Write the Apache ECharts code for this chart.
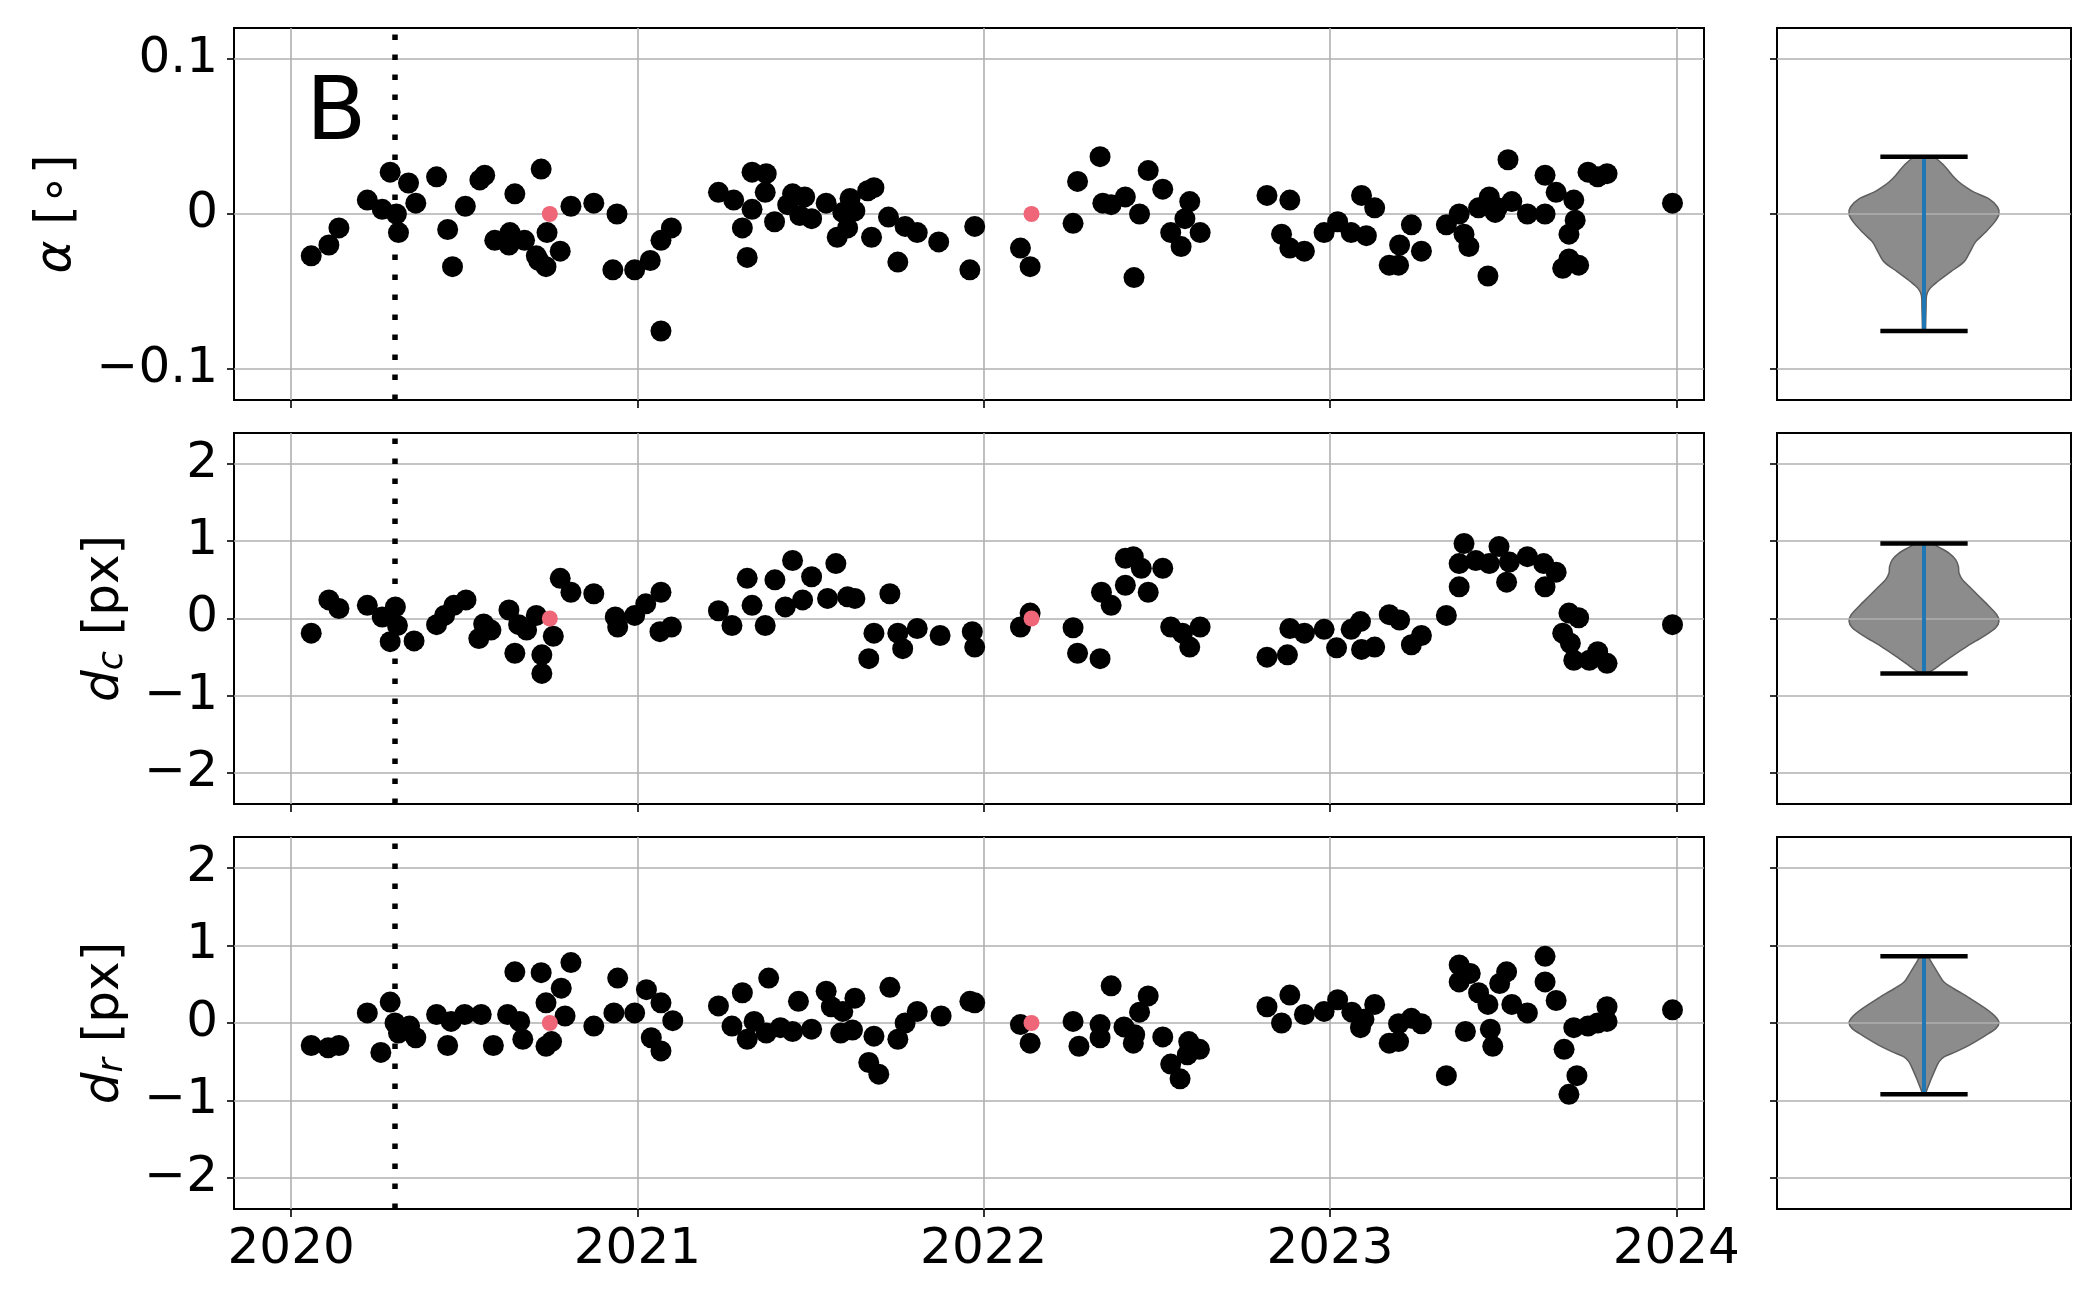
<!DOCTYPE html>
<html><head><meta charset="utf-8">
<script src="https://cdn.jsdelivr.net/npm/echarts@6/dist/echarts.min.js"></script>
<style>html,body{margin:0;padding:0;background:#fff}#c{width:2096px;height:1297px}</style>
</head><body><div id="c"></div>
<script>
// ---------- DATA ----------
const yearTicks = [2020, 2021, 2022, 2023, 2024];
const alphaTicks = [-0.1, 0, 0.1];
const dTicks = [-2, -1, 0, 1, 2];
const refEpoch = 2020.298;          // dotted vertical line
const panelLetter = 'B';

// alpha [deg]  : [decimal year, value]
const alphaPts = [
[2020.058,-0.027],[2020.109,-0.020],[2020.138,-0.009],[2020.220,0.009],[2020.263,0.003],[2020.286,0.027],[2020.304,0.000],[2020.310,-0.012],[2020.339,0.020],[2020.360,0.007],
[2020.420,0.024],[2020.452,-0.010],[2020.466,-0.034],[2020.503,0.005],[2020.545,0.022],[2020.559,0.025],[2020.588,-0.017],[2020.632,-0.012],[2020.646,0.013],[2020.629,-0.020],
[2020.674,-0.017],[2020.708,-0.027],[2020.722,0.029],[2020.715,-0.030],[2020.736,-0.034],[2020.739,-0.012],[2020.777,-0.024],[2020.808,0.005],[2020.874,0.007],[2020.941,0.000],
[2020.929,-0.036],[2020.992,-0.036],[2021.037,-0.030],[2021.068,-0.017],[2021.098,-0.009],[2021.068,-0.0755],[2021.234,0.014],[2021.278,0.009],[2021.303,-0.009],[2021.317,-0.028],
[2021.331,0.003],[2021.331,0.027],[2021.372,0.026],[2021.369,0.014],[2021.396,-0.005],[2021.434,0.006],[2021.448,0.013],[2021.469,-0.001],[2021.483,0.011],[2021.503,-0.003],
[2021.545,0.007],[2021.577,-0.015],[2021.593,0.001],[2021.607,-0.009],[2021.614,0.010],[2021.628,0.002],[2021.665,0.015],[2021.683,0.017],[2021.676,-0.015],[2021.725,-0.002],
[2021.752,-0.031],[2021.773,-0.008],[2021.808,-0.012],[2021.870,-0.018],[2021.960,-0.036],[2021.974,-0.008],
[2022.106,-0.022],[2022.134,-0.034],[2022.258,-0.006],[2022.271,0.021],[2022.336,0.037],[2022.344,0.007],[2022.368,0.006],[2022.409,0.011],[2022.434,-0.041],[2022.450,0.000],
[2022.475,0.028],[2022.517,0.016],[2022.540,-0.012],[2022.570,-0.021],[2022.581,-0.003],[2022.595,0.008],[2022.625,-0.012],[2022.818,0.012],[2022.884,0.009],[2022.860,-0.013],
[2022.884,-0.022],[2022.926,-0.024],[2022.983,-0.012],[2023.022,-0.005],[2023.061,-0.012],[2023.091,0.012],[2023.105,-0.014],[2023.129,0.004],[2023.171,-0.033],[2023.198,-0.033],
[2023.201,-0.020],[2023.235,-0.007],[2023.264,-0.024],[2023.336,-0.007],[2023.373,0.000],[2023.387,-0.013],[2023.401,-0.021],[2023.429,0.004],[2023.456,-0.040],[2023.460,0.011],
[2023.477,0.001],[2023.483,0.004],[2023.514,0.035],[2023.525,0.008],[2023.570,0.000],[2023.621,0.000],[2023.621,0.025],[2023.653,0.014],[2023.672,-0.035],[2023.690,-0.013],
[2023.690,-0.029],[2023.704,0.009],[2023.708,-0.004],[2023.718,-0.033],[2023.745,0.027],[2023.773,0.024],[2023.800,0.026],[2023.989,0.007]
];

// d_c [px]
const dcPts = [
[2020.058,-0.19],[2020.109,0.24],[2020.138,0.13],[2020.220,0.17],[2020.263,0.02],[2020.301,0.15],[2020.286,-0.30],[2020.307,-0.09],[2020.355,-0.29],[2020.420,-0.08],
[2020.443,0.04],[2020.470,0.17],[2020.505,0.24],[2020.542,-0.26],[2020.556,-0.07],[2020.577,-0.15],[2020.629,0.11],[2020.646,-0.45],[2020.657,-0.08],[2020.680,-0.15],
[2020.708,0.04],[2020.724,-0.47],[2020.724,-0.71],[2020.757,-0.23],[2020.777,0.52],[2020.808,0.34],[2020.874,0.32],[2020.936,0.02],[2020.943,-0.11],[2020.992,0.04],
[2021.024,0.19],[2021.068,0.34],[2021.065,-0.17],[2021.098,-0.11],[2021.234,0.10],[2021.273,-0.09],[2021.317,0.52],[2021.331,0.17],[2021.369,-0.09],[2021.397,0.50],
[2021.427,0.15],[2021.448,0.75],[2021.477,0.24],[2021.503,0.54],[2021.549,0.26],[2021.573,0.71],[2021.607,0.28],[2021.628,0.26],[2021.729,0.32],[2021.683,-0.19],
[2021.668,-0.52],[2021.752,-0.19],[2021.766,-0.39],[2021.808,-0.13],[2021.874,-0.22],[2021.967,-0.17],[2021.974,-0.37],
[2022.106,-0.11],[2022.134,0.07],[2022.258,-0.12],[2022.271,-0.45],[2022.336,-0.52],[2022.340,0.34],[2022.368,0.17],[2022.409,0.43],[2022.409,0.78],[2022.432,0.80],
[2022.455,0.65],[2022.475,0.34],[2022.517,0.65],[2022.540,-0.11],[2022.574,-0.19],[2022.595,-0.37],[2022.625,-0.11],[2022.818,-0.50],[2022.877,-0.47],[2022.884,-0.13],
[2022.926,-0.19],[2022.983,-0.14],[2023.019,-0.38],[2023.061,-0.14],[2023.088,-0.04],[2023.091,-0.40],[2023.129,-0.37],[2023.171,0.05],[2023.201,-0.02],[2023.235,-0.34],
[2023.264,-0.22],[2023.336,0.04],[2023.373,0.41],[2023.373,0.71],[2023.387,0.97],[2023.421,0.75],[2023.460,0.71],[2023.488,0.93],[2023.510,0.47],[2023.518,0.73],
[2023.570,0.80],[2023.617,0.71],[2023.621,0.41],[2023.653,0.60],[2023.690,0.07],[2023.718,0.01],[2023.672,-0.19],[2023.694,-0.32],[2023.704,-0.54],[2023.749,-0.54],
[2023.773,-0.43],[2023.800,-0.58],[2023.989,-0.08]
];

// d_r [px]
const drPts = [
[2020.058,-0.29],[2020.107,-0.32],[2020.138,-0.29],[2020.220,0.13],[2020.259,-0.38],[2020.286,0.27],[2020.300,0.00],[2020.310,-0.13],[2020.342,-0.04],[2020.360,-0.19],
[2020.420,0.11],[2020.452,-0.29],[2020.462,0.02],[2020.501,0.11],[2020.549,0.11],[2020.584,-0.29],[2020.625,0.11],[2020.646,0.66],[2020.660,0.02],[2020.669,-0.21],
[2020.722,0.65],[2020.736,0.26],[2020.736,-0.30],[2020.752,-0.24],[2020.780,0.45],[2020.791,0.09],[2020.808,0.78],[2020.874,-0.04],[2020.932,0.13],[2020.943,0.58],
[2020.992,0.13],[2021.026,0.43],[2021.040,-0.19],[2021.068,0.26],[2021.068,-0.36],[2021.102,0.03],[2021.234,0.22],[2021.273,-0.04],[2021.303,0.39],[2021.317,-0.21],
[2021.337,0.02],[2021.379,0.58],[2021.372,-0.13],[2021.413,-0.06],[2021.448,-0.11],[2021.465,0.28],[2021.503,-0.08],[2021.545,0.41],[2021.560,0.21],[2021.587,-0.13],
[2021.593,0.15],[2021.621,-0.09],[2021.628,0.32],[2021.683,-0.17],[2021.668,-0.51],[2021.697,-0.66],[2021.729,0.46],[2021.752,-0.21],[2021.773,0.00],[2021.808,0.15],
[2021.877,0.09],[2021.960,0.28],[2021.974,0.26],
[2022.106,-0.02],[2022.134,-0.26],[2022.258,0.02],[2022.275,-0.30],[2022.336,-0.02],[2022.336,-0.19],[2022.368,0.48],[2022.405,-0.05],[2022.432,-0.26],[2022.450,0.14],
[2022.475,0.35],[2022.436,-0.15],[2022.517,-0.18],[2022.540,-0.53],[2022.567,-0.72],[2022.592,-0.24],[2022.623,-0.34],[2022.588,-0.41],[2022.818,0.21],[2022.860,0.00],
[2022.884,0.36],[2022.926,0.11],[2022.983,0.15],[2023.022,0.30],[2023.063,0.14],[2023.088,-0.06],[2023.098,0.05],[2023.129,0.24],[2023.171,-0.26],[2023.198,-0.24],
[2023.198,-0.01],[2023.235,0.06],[2023.264,-0.01],[2023.336,-0.68],[2023.373,0.75],[2023.373,0.53],[2023.405,0.64],[2023.391,-0.11],[2023.429,0.39],[2023.456,0.24],
[2023.463,-0.08],[2023.470,-0.30],[2023.490,0.51],[2023.510,0.66],[2023.525,0.24],[2023.570,0.13],[2023.621,0.86],[2023.621,0.53],[2023.653,0.29],[2023.676,-0.34],
[2023.690,-0.92],[2023.713,-0.68],[2023.704,-0.06],[2023.745,-0.04],[2023.773,0.00],[2023.800,0.21],[2023.800,0.02],[2023.989,0.17]
];

// reference epochs (red)
const redPts = [[2020.747, 0], [2022.138, 0]];

// violin outlines: value and half-width (violin axis units)
const alphaViolinY = [0.0367,0.0313,0.0249,0.0205,0.0170,0.0141,0.0099,0.0045,0,-0.0051,-0.0116,-0.0180,-0.0244,-0.0309,-0.0373,-0.0437,-0.0480,-0.0523,-0.0609,-0.0716,-0.0750];
const alphaViolinW = [0.063,0.136,0.193,0.240,0.290,0.340,0.440,0.500,0.510,0.481,0.420,0.351,0.313,0.272,0.181,0.091,0.041,0.018,0.014,0.011,0.009];
const dcViolinY = [0.963,0.933,0.847,0.761,0.675,0.589,0.503,0.417,0.288,0.159,0.052,-0.034,-0.120,-0.228,-0.357,-0.486,-0.594,-0.658,-0.692];
const dcViolinW = [0.068,0.091,0.170,0.215,0.234,0.238,0.261,0.306,0.374,0.442,0.494,0.510,0.488,0.408,0.295,0.193,0.113,0.068,0.034];
const drViolinY = [0.850,0.785,0.657,0.528,0.442,0.313,0.185,0.077,0,-0.073,-0.159,-0.288,-0.373,-0.438,-0.502,-0.588,-0.717,-0.845,-0.897];
const drViolinW = [0.027,0.050,0.091,0.136,0.204,0.317,0.420,0.488,0.510,0.488,0.420,0.306,0.215,0.136,0.102,0.079,0.050,0.023,0.011];

// ---------- LAYOUT / STYLE ----------
const FONT = 'DejaVu Sans';
const X_MIN = 2019.835, X_MAX = 2024.080;
const panels = [
  {top: 28, height: 372, min: -0.12, max: 0.12, ticks: alphaTicks, pts: alphaPts, vy: alphaViolinY, vw: alphaViolinW,
   name: '{i|α} [∘]', nameGap: 152},
  {top: 433, height: 371, min: -2.4, max: 2.4, ticks: dTicks, pts: dcPts, vy: dcViolinY, vw: dcViolinW,
   name: '{i|d}{s|c} [px]', nameGap: 104},
  {top: 837, height: 372, min: -2.4, max: 2.4, ticks: dTicks, pts: drPts, vy: drViolinY, vw: drViolinW,
   name: '{i|d}{s|r} [px]', nameGap: 104}
];
const WHISK = 0.297;
const fmt = v => String(v).replace('-', '\u2212');

const grid = [], xAxis = [], yAxis = [], series = [];
const gridBase = {show: true, borderColor: '#000', borderWidth: 2, backgroundColor: 'transparent', containLabel: false, outerBoundsMode: 'none'};
const nameStyle = {
  fontSize: 50, fontFamily: FONT, color: '#000',
  rich: {
    i: {fontStyle: 'italic', fontSize: 50, fontFamily: FONT, color: '#000'},
    s: {fontStyle: 'italic', fontSize: 35, fontFamily: FONT, color: '#000', verticalAlign: 'bottom', lineHeight: 22}
  }
};

panels.forEach((p, k) => {
  const gs = 2 * k, gv = 2 * k + 1;
  grid.push(Object.assign({left: 234, width: 1470, top: p.top, height: p.height}, gridBase));
  grid.push(Object.assign({left: 1777, width: 294, top: p.top, height: p.height}, gridBase));

  xAxis.push({type: 'value', gridIndex: gs, min: X_MIN, max: X_MAX,
    axisLine: {show: false, onZero: false},
    axisTick: {show: true, customValues: yearTicks, length: 8, lineStyle: {color: '#000', width: 1.6}},
    axisLabel: {show: k === 2, customValues: yearTicks, margin: 16, fontSize: 50, fontFamily: FONT, color: '#000', formatter: v => String(v)},
    splitLine: {show: true, lineStyle: {color: '#b0b0b0', width: 1.6}}});
  xAxis.push({type: 'value', gridIndex: gv, min: -1, max: 1,
    axisLine: {show: false, onZero: false}, axisTick: {show: false}, axisLabel: {show: false}, splitLine: {show: false}});

  const yBase = {type: 'value', min: p.min, max: p.max,
    axisLine: {show: false, onZero: false},
    axisTick: {show: true, customValues: p.ticks, length: 7, lineStyle: {color: '#000', width: 1.6}},
    splitLine: {show: true, lineStyle: {color: '#b0b0b0', width: 1.6}}};
  yAxis.push(Object.assign({}, yBase, {gridIndex: gs,
    axisLabel: {show: true, customValues: p.ticks, margin: 16, fontSize: 50, fontFamily: FONT, color: '#000', formatter: fmt},
    name: p.name, nameLocation: 'middle', nameGap: p.nameGap, nameTextStyle: nameStyle}));
  yAxis.push(Object.assign({}, yBase, {gridIndex: gv, z: 3, axisLabel: {show: false}}));

  // scatter (black) with dotted reference line
  series.push({type: 'scatter', xAxisIndex: gs, yAxisIndex: gs, data: p.pts, symbol: 'circle', symbolSize: 21,
    itemStyle: {color: '#000', opacity: 1}, z: 4, silent: true,
    markLine: {silent: true, symbol: ['none', 'none'], label: {show: false},
      lineStyle: {color: '#000', width: 5.5, type: [5.5, 14.5], cap: 'butt', opacity: 1},
      data: [{xAxis: refEpoch}]}});
  // reference epochs (red)
  series.push({type: 'scatter', xAxisIndex: gs, yAxisIndex: gs, data: redPts, symbol: 'circle', symbolSize: 16,
    itemStyle: {color: '#EE6677', opacity: 1}, z: 6, silent: true});

  // violin body
  series.push({type: 'custom', xAxisIndex: gv, yAxisIndex: gv, data: [[0, 0]], z: 1, silent: true,
    renderItem: (params, api) => {
      const pts = [];
      for (let i = 0; i < p.vy.length; i++) pts.push(api.coord([p.vw[i], p.vy[i]]));
      for (let i = p.vy.length - 1; i >= 0; i--) pts.push(api.coord([-p.vw[i], p.vy[i]]));
      return {type: 'polygon', shape: {points: pts, smooth: 0.3},
        style: {fill: '#8c8c8c', stroke: '#5e5e5e', lineWidth: 1.5}};
    }});
  // extrema bars + centre line
  const vals = p.pts.map(d => d[1]);
  const mn = Math.min(...vals), mx = Math.max(...vals);
  series.push({type: 'custom', xAxisIndex: gv, yAxisIndex: gv, data: [[0, 0]], z: 5, silent: true,
    renderItem: (params, api) => {
      const t = api.coord([0, mx]), b = api.coord([0, mn]);
      const tl = api.coord([-WHISK, mx]), tr = api.coord([WHISK, mx]);
      const bl = api.coord([-WHISK, mn]), br = api.coord([WHISK, mn]);
      return {type: 'group', children: [
        {type: 'line', shape: {x1: t[0], y1: t[1], x2: b[0], y2: b[1]}, style: {stroke: '#1f77b4', lineWidth: 4}},
        {type: 'line', shape: {x1: tl[0], y1: tl[1], x2: tr[0], y2: tr[1]}, style: {stroke: '#000', lineWidth: 4.5}},
        {type: 'line', shape: {x1: bl[0], y1: bl[1], x2: br[0], y2: br[1]}, style: {stroke: '#000', lineWidth: 4.5}}
      ]};
    }});
});

const chart = echarts.init(document.getElementById('c'), null, {renderer: 'canvas'});
chart.setOption({
  animation: false,
  backgroundColor: '#fff',
  textStyle: {fontFamily: FONT},
  grid, xAxis, yAxis, series,
  graphic: [{type: 'text', left: 306, top: 72, z: 10,
    style: {text: panelLetter, font: '88px "DejaVu Sans"', fill: '#000'}}]
});
</script></body></html>
